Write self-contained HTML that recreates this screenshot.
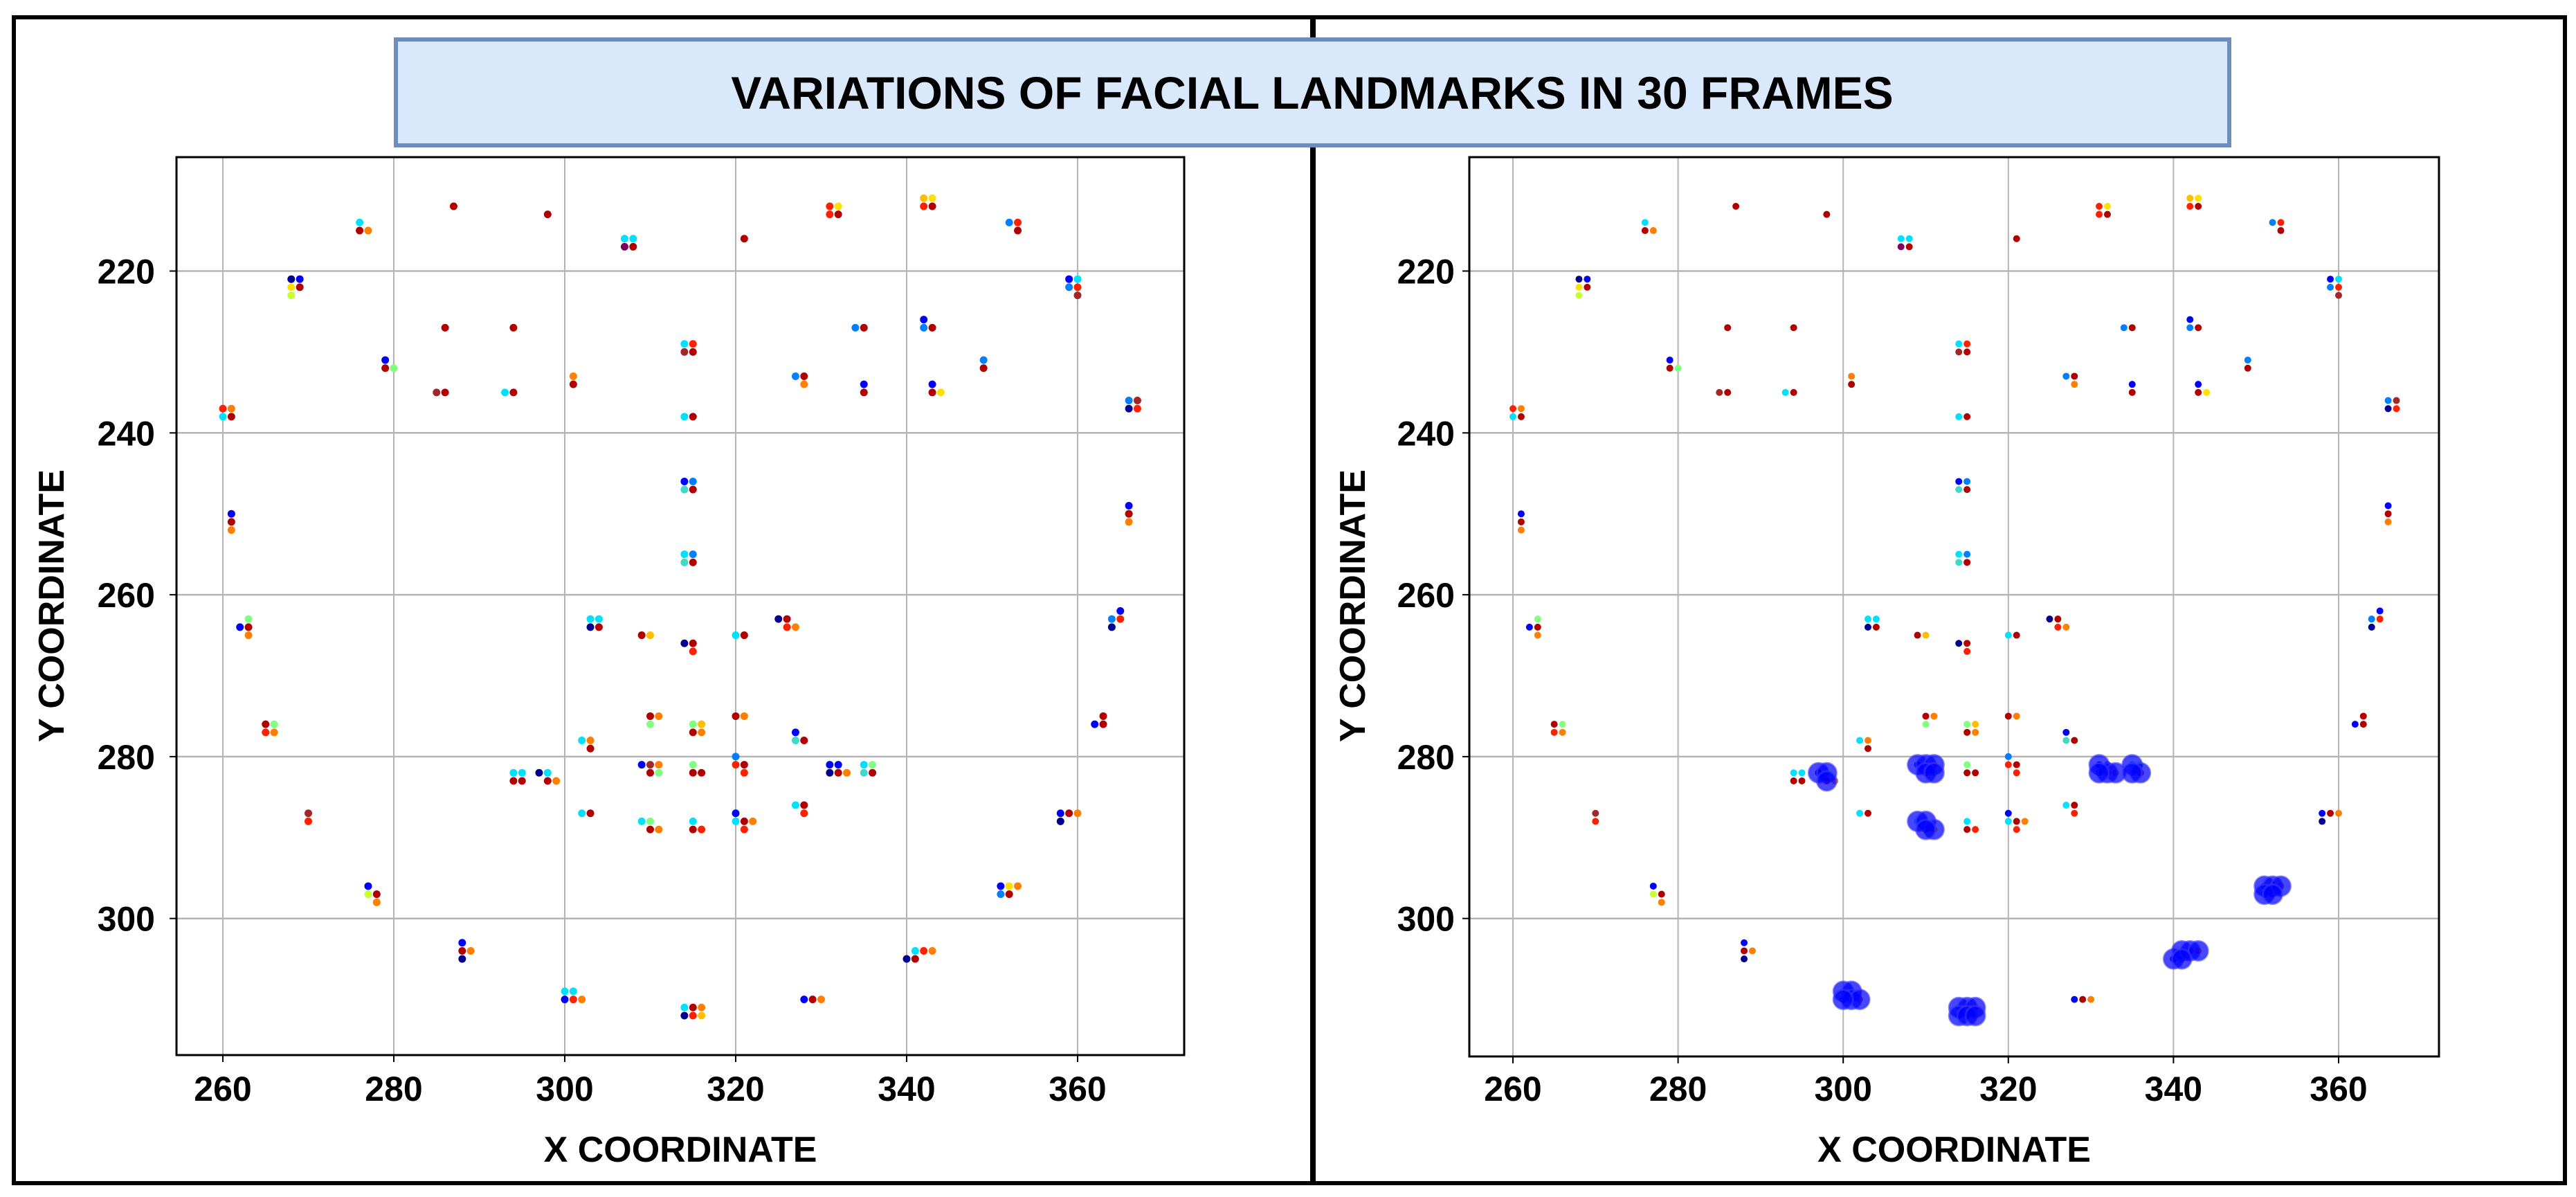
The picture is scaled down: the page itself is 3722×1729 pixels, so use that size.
<!DOCTYPE html>
<html><head><meta charset="utf-8"><style>
html,body{margin:0;padding:0;background:#fff;}
svg{display:block;font-family:"Liberation Sans",Arial,sans-serif;}
</style></head><body>
<svg id="fig" width="3722" height="1729" viewBox="0 0 3722 1729" xmlns="http://www.w3.org/2000/svg">
<rect x="0" y="0" width="3722" height="1729" fill="#fff"/>
<rect x="20" y="25" width="3686" height="1684" fill="none" stroke="#000" stroke-width="6"/>
<rect x="1893" y="25" width="8" height="1684" fill="#000"/>
<rect x="572" y="57" width="2649" height="153" fill="#dae8fc" stroke="#6c8ebf" stroke-width="6"/>
<text x="1896" y="157" text-anchor="middle" font-size="66" font-weight="bold">VARIATIONS OF FACIAL LANDMARKS IN 30 FRAMES</text>
<g id="left"></g>
<g id="right"></g>
</svg>
<script>
const xTicks = [260, 280, 300, 320, 340, 360];
const yTicks = [220, 240, 260, 280, 300];
const colorNames = {n:'#00008f',b:'#0000ff',l:'#0080ff',c:'#00e0ff',t:'#40d8c8',g:'#80ff80',y:'#c8ff30',Y:'#ffe000',G:'#ffbf00',o:'#ff8000',r:'#ff2000',d:'#b00000',w:'#a02828',p:'#800060'};
const dots = [
[276,214,'c'],[276,215,'d'],[277,215,'o'],[287,212,'d'],[298,213,'d'],
[307,216,'c'],[308,216,'c'],[307,217,'p'],[308,217,'d'],[321,216,'d'],
[331,212,'r'],[332,212,'Y'],[331,213,'r'],[332,213,'d'],
[342,211,'G'],[343,211,'Y'],[342,212,'r'],[343,212,'d'],
[352,214,'l'],[353,214,'r'],[353,215,'d'],
[268,221,'n'],[269,221,'b'],[268,222,'Y'],[269,222,'d'],[268,223,'y'],
[359,221,'b'],[360,221,'c'],[359,222,'l'],[360,222,'r'],[360,223,'w'],
[286,227,'d'],[294,227,'d'],
[314,229,'c'],[315,229,'r'],[314,230,'w'],[315,230,'d'],
[334,227,'l'],[335,227,'d'],[342,226,'b'],[342,227,'l'],[343,227,'d'],
[279,231,'b'],[279,232,'d'],[280,232,'g'],[349,231,'l'],[349,232,'d'],
[285,235,'w'],[286,235,'d'],[293,235,'c'],[294,235,'d'],
[301,233,'o'],[301,234,'d'],[327,233,'l'],[328,233,'d'],[328,234,'o'],
[335,234,'b'],[335,235,'d'],[343,234,'b'],[343,235,'d'],[344,235,'Y'],
[366,236,'l'],[367,236,'w'],[366,237,'n'],[367,237,'r'],
[260,237,'r'],[261,237,'o'],[260,238,'c'],[261,238,'d'],
[314,238,'c'],[315,238,'d'],
[314,246,'b'],[315,246,'l'],[314,247,'t'],[315,247,'d'],
[261,250,'b'],[261,251,'d'],[261,252,'o'],
[366,249,'b'],[366,250,'d'],[366,251,'o'],
[314,255,'c'],[315,255,'l'],[314,256,'t'],[315,256,'d'],
[262,264,'b'],[263,264,'d'],[263,263,'g'],[263,265,'o'],
[303,263,'c'],[304,263,'c'],[303,264,'n'],[304,264,'d'],
[309,265,'d'],[310,265,'G'],[314,266,'n'],[315,266,'d'],[315,267,'r'],
[320,265,'c'],[321,265,'d'],
[325,263,'n'],[326,263,'d'],[326,264,'r'],[327,264,'o'],
[364,263,'l'],[365,262,'b'],[365,263,'r'],[364,264,'n'],
[265,276,'d'],[266,276,'g'],[265,277,'r'],[266,277,'o'],
[310,275,'d'],[311,275,'o'],[310,276,'g'],
[315,276,'g'],[316,276,'G'],[315,277,'d'],[316,277,'o'],
[320,275,'d'],[321,275,'o'],
[362,276,'b'],[363,275,'d'],[363,276,'d'],
[302,278,'c'],[303,278,'o'],[303,279,'d'],
[327,277,'b'],[327,278,'t'],[328,278,'d'],
[294,282,'c'],[295,282,'c'],[297,282,'n'],[298,282,'c'],[294,283,'d'],[295,283,'d'],[298,283,'d'],[299,283,'o'],
[309,281,'b'],[310,281,'w'],[311,281,'o'],[310,282,'d'],[311,282,'g'],
[315,281,'g'],[315,282,'d'],[316,282,'d'],
[320,280,'l'],[320,281,'r'],[321,281,'d'],[321,282,'r'],
[331,281,'b'],[332,281,'b'],[331,282,'n'],[332,282,'d'],[333,282,'o'],
[335,281,'c'],[336,281,'g'],[335,282,'t'],[336,282,'d'],
[270,287,'w'],[270,288,'r'],[302,287,'c'],[303,287,'d'],
[309,288,'c'],[310,288,'g'],[310,289,'d'],[311,289,'o'],
[315,288,'c'],[315,289,'d'],[316,289,'r'],
[320,287,'b'],[320,288,'c'],[321,288,'d'],[322,288,'o'],[321,289,'r'],
[327,286,'c'],[328,286,'d'],[328,287,'r'],
[358,287,'b'],[359,287,'d'],[360,287,'o'],[358,288,'n'],
[277,296,'b'],[277,297,'y'],[278,297,'d'],[278,298,'o'],
[351,296,'b'],[352,296,'Y'],[353,296,'o'],[351,297,'l'],[352,297,'d'],
[288,303,'b'],[288,304,'d'],[289,304,'o'],[288,305,'n'],
[341,304,'c'],[342,304,'r'],[343,304,'o'],[340,305,'n'],[341,305,'d'],
[300,309,'c'],[301,309,'c'],[300,310,'b'],[301,310,'r'],[302,310,'o'],
[328,310,'b'],[329,310,'d'],[330,310,'o'],
[314,311,'c'],[315,311,'d'],[316,311,'o'],[314,312,'n'],[315,312,'r'],[316,312,'G']
];
const dotX = dots.map(d => d[0]);
const dotY = dots.map(d => d[1]);
const dotC = dots.map(d => d[2]);
const bigX = [297,298,298,309,310,311,310,311,309,310,311,310,331,332,333,331,335,336,335,300,301,301,302,300,314,315,316,314,315,316,340,341,342,343,341,351,352,353,351,352];
const bigY = [282,282,283,281,281,281,282,282,288,288,289,289,281,282,282,282,281,282,282,309,309,310,310,310,311,311,311,312,312,312,305,304,304,304,305,296,296,296,297,297];

const NS = 'http://www.w3.org/2000/svg';
function mk(tag, attrs, parent){const e=document.createElementNS(NS,tag);for(const k in attrs)e.setAttribute(k,attrs[k]);parent.appendChild(e);return e;}

function panel(g, cfg){
  const sx = v => cfg.x260 + (v-260)*cfg.kx;
  const sy = v => 391.5 + (v-220)*11.69;
  const grid = mk('g',{},g);
  
  
  xTicks.forEach(v=>{
    const l=mk('line',{x1:sx(v),x2:sx(v),y1:cfg.top,y2:cfg.bottom,stroke:'#b4b4b4','stroke-width':2},grid);
    
    
    const tk=mk('line',{x1:sx(v),x2:sx(v),y1:cfg.bottom,y2:cfg.bottom+10,stroke:'#000','stroke-width':2},g);
    
    
    const t=mk('text',{x:sx(v),y:1590,'text-anchor':'middle','font-size':50,'font-weight':'bold'},g);
    t.textContent=v;
    
    
  });
  yTicks.forEach(v=>{
    const l=mk('line',{x1:cfg.left,x2:cfg.right,y1:sy(v),y2:sy(v),stroke:'#b4b4b4','stroke-width':2.5},grid);
    
    
    const tk=mk('line',{x1:cfg.left-10,x2:cfg.left,y1:sy(v),y2:sy(v),stroke:'#000','stroke-width':2},g);
    
    
    const t=mk('text',{x:cfg.labelEnd,y:sy(v)+18,'text-anchor':'end','font-size':50,'font-weight':'bold'},g);
    t.textContent=v;
    
    
  });
  for(let i=0;i<dotX.length;i++){
    const c=mk('circle',{cx:sx(dotX[i]),cy:sy(dotY[i]),r:cfg.r,fill:colorNames[dotC[i]]},g);
    
    
  }
  if(cfg.big){
    for(let i=0;i<bigX.length;i++){
      const c=mk('circle',{cx:sx(bigX[i]),cy:sy(bigY[i]),r:14,fill:'rgba(0,0,255,0.72)',stroke:'rgba(60,60,255,0.6)','stroke-width':3},g);
      
      
    }
  }
  const fr=mk('rect',{x:cfg.left,y:cfg.top,width:cfg.right-cfg.left,height:cfg.bottom-cfg.top,fill:'none',stroke:'#000','stroke-width':3},g);
  
  
  const xt=mk('text',{x:(cfg.left+cfg.right)/2,y:1678,'text-anchor':'middle','font-size':52,'font-weight':'bold','xml:space':'preserve'},g);
  xt.textContent='X  COORDINATE';
  
  
  const yt=mk('text',{x:0,y:0,'text-anchor':'middle','font-size':52,'font-weight':'bold',transform:'translate('+(cfg.ytx)+',875) rotate(-90)','xml:space':'preserve'},g);
  yt.textContent='Y  COORDINATE';
  
  
}
panel(document.getElementById('left'),{x260:322,kx:12.35,left:255,right:1711,top:227,bottom:1524,labelEnd:224,ytx:92,r:5.5,big:false});
panel(document.getElementById('right'),{x260:2186,kx:11.93,left:2123,right:3524,top:227,bottom:1526,labelEnd:2102,ytx:1972,r:5,big:true});
</script>
</body></html>
